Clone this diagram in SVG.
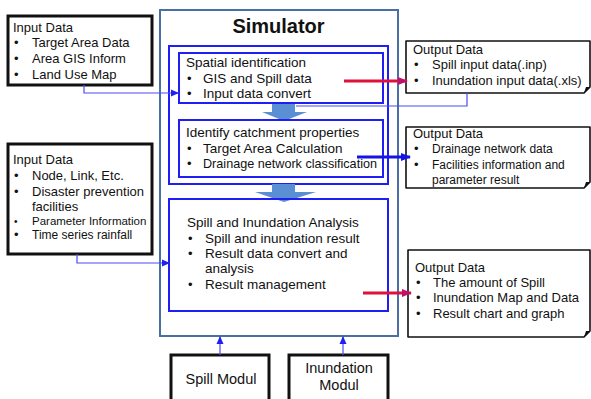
<svg xmlns="http://www.w3.org/2000/svg" width="591" height="399" viewBox="0 0 591 399">
  <style>
    text { font-family: "Liberation Sans", Arial, sans-serif; fill: #111; }
    .t { font-size: 13px; }
    .m { font-size: 13.5px; }
    .s { font-size: 12px; }
    .title { font-size: 20px; font-weight: bold; }
    .mod { font-size: 14.5px; }
    .inbox { fill: #fff; stroke: #111; stroke-width: 3; }
    .outbox { fill: #fff; stroke: #111; stroke-width: 1.6; stroke-linejoin: round; }
    .sim { fill: #fff; stroke: #4A6FA5; stroke-width: 2; }
    .blue { fill: none; stroke: #1E1EF5; stroke-width: 2; }
    .thin { fill: none; stroke: #4B4BF5; stroke-width: 1.2; }
    .red { fill: none; stroke: #E0103A; stroke-width: 3.2; }
    .bold { fill: none; stroke: #1414E6; stroke-width: 3.2; }
    .blk { fill: #5B8FD4; }
  </style>
  <defs>
    <marker id="ah" markerWidth="8" markerHeight="8" refX="7" refY="4" orient="auto" markerUnits="userSpaceOnUse">
      <path d="M0,0.5 L8,4 L0,7.5 z" fill="#2020F0"/>
    </marker>
    <marker id="ahRed" markerWidth="10" markerHeight="10" refX="9" refY="5" orient="auto" markerUnits="userSpaceOnUse">
      <path d="M0,1 L10,5 L0,9 z" fill="#C0106A"/>
    </marker>
    <marker id="ahBlue" markerWidth="10" markerHeight="10" refX="9" refY="5" orient="auto" markerUnits="userSpaceOnUse">
      <path d="M0,1 L10,5 L0,9 z" fill="#1414E6"/>
    </marker>
  </defs>

  <!-- Simulator frame -->
  <g id="simulator">
    <rect class="sim" x="160" y="10" width="238" height="326"/>
    <text class="title" x="278.5" y="33" text-anchor="middle">Simulator</text>
    <rect class="blue" x="169" y="46" width="219" height="138"/>
  </g>

  <!-- block arrows between stages -->
  <g id="flow-arrows">
    <path class="blk" d="M272,103 H295 V112 H307 L284,121 L262,112 H272 z"/>
    <path class="blk" d="M272,184 H295 V192 H316 L284,202 L255,192 H272 z"/>
  </g>

  <g id="spatial">
    <rect class="blue" x="179" y="53" width="204" height="50" fill="#fff"/>
    <text class="m" x="186" y="67">Spatial identification</text>
    <text class="t" x="187" y="83">•</text><text class="m" x="203" y="83">GIS and Spill data</text>
    <text class="t" x="187" y="98">•</text><text class="m" x="203" y="98">Input data convert</text>
  </g>

  <g id="catchment">
    <rect class="blue" x="179" y="120" width="204" height="57" fill="#fff"/>
    <text class="m" x="186" y="137">Identify catchment properties</text>
    <text class="t" x="187" y="153">•</text><text class="m" x="203" y="153">Target Area Calculation</text>
    <text class="t" x="187" y="168">•</text><text class="t" x="203" y="168" textLength="174" lengthAdjust="spacingAndGlyphs">Drainage network classification</text>
  </g>

  <g id="analysis">
    <rect class="blue" x="169" y="199" width="219" height="112" fill="#fff"/>
    <text class="m" x="187" y="227">Spill and Inundation Analysis</text>
    <text class="t" x="188" y="243">•</text><text class="m" x="205" y="243">Spill and inundation result</text>
    <text class="t" x="188" y="258">•</text><text class="m" x="205" y="258">Result data convert and</text>
    <text class="m" x="205" y="273">analysis</text>
    <text class="t" x="188" y="289">•</text><text class="m" x="205" y="289">Result management</text>
  </g>

  <g id="input1">
    <rect class="inbox" x="8" y="16" width="144" height="69"/>
    <text class="t" x="13" y="32">Input Data</text>
    <text class="t" x="14" y="47">•</text><text class="t" x="32" y="47">Target Area Data</text>
    <text class="t" x="14" y="63">•</text><text class="t" x="32" y="63">Area GIS Inform</text>
    <text class="t" x="14" y="79">•</text><text class="t" x="32" y="79">Land Use Map</text>
  </g>

  <g id="input2">
    <rect class="inbox" x="8" y="144" width="144" height="110"/>
    <text class="t" x="13" y="164">Input Data</text>
    <text class="t" x="14" y="180">•</text><text class="t" x="32" y="180">Node, Link, Etc.</text>
    <text class="t" x="14" y="196">•</text><text class="t" x="32" y="196">Disaster prevention</text>
    <text class="t" x="32" y="211">facilities</text>
    <text x="14" y="225" style="font-size:10px">•</text><text x="32" y="225" style="font-size:11.5px">Parameter Information</text>
    <text class="t" x="14" y="239">•</text><text class="s" x="32" y="239">Time series rainfall</text>
  </g>

  <g id="output1">
    <path class="outbox" d="M406,41 H590 V87 L584,93 H406 z"/>
    <path d="M584,93 L590,87 L586,87 z" fill="#111"/>
    <text class="t" x="413" y="54">Output Data</text>
    <text class="t" x="414" y="69">•</text><text class="t" x="432" y="69">Spill input data(.inp)</text>
    <text class="t" x="414" y="85">•</text><text class="t" x="432" y="85">Inundation input data(.xls)</text>
  </g>

  <g id="output2">
    <path class="outbox" d="M406,127 H590 V182 L584,188 H406 z"/>
    <path d="M584,188 L590,182 L586,182 z" fill="#111"/>
    <text class="t" x="413" y="138">Output Data</text>
    <text class="t" x="414" y="153">•</text><text class="s" x="432" y="153">Drainage network data</text>
    <text class="t" x="414" y="169">•</text><text class="s" x="432" y="169">Facilities information and</text>
    <text class="s" x="432" y="184">parameter result</text>
  </g>

  <g id="output3">
    <path class="outbox" d="M408,250 H590 V331 L584,337 H408 z"/>
    <path d="M584,337 L590,331 L586,331 z" fill="#111"/>
    <text class="t" x="415" y="272">Output Data</text>
    <text class="t" x="416" y="287">•</text><text class="t" x="433" y="287">The amount of Spill</text>
    <text class="t" x="416" y="302">•</text><text class="t" x="433" y="302">Inundation Map and Data</text>
    <text class="t" x="416" y="318">•</text><text class="t" x="433" y="318">Result chart and graph</text>
  </g>

  <g id="spill-modul">
    <rect class="inbox" x="171" y="355" width="98" height="50" stroke-width="2.5"/>
    <text class="mod" x="221" y="384" text-anchor="middle">Spill Modul</text>
  </g>

  <g id="inundation-modul">
    <rect class="inbox" x="289" y="355" width="99" height="50" stroke-width="2.5"/>
    <text class="mod" x="339" y="373" text-anchor="middle">Inundation</text>
    <text class="mod" x="339" y="390" text-anchor="middle">Modul</text>
  </g>

  <!-- connectors -->
  <g id="connectors">
    <polyline class="thin" points="84,85 84,93 178,93" marker-end="url(#ah)"/>
    <polyline class="thin" points="77,254 77,263 169,263" marker-end="url(#ah)"/>
    <polyline class="thin" points="296,106 467,106 467,93"/>
    <line class="red" x1="344" y1="81" x2="407" y2="81" marker-end="url(#ahRed)"/>
    <line class="bold" x1="357" y1="157" x2="410" y2="157" marker-end="url(#ahBlue)"/>
    <line class="red" x1="363" y1="293" x2="411" y2="293" marker-end="url(#ahRed)"/>
    <line class="thin" x1="220" y1="355" x2="220" y2="337" marker-end="url(#ah)"/>
    <line class="thin" x1="343" y1="355" x2="343" y2="337" marker-end="url(#ah)"/>
  </g>
</svg>
